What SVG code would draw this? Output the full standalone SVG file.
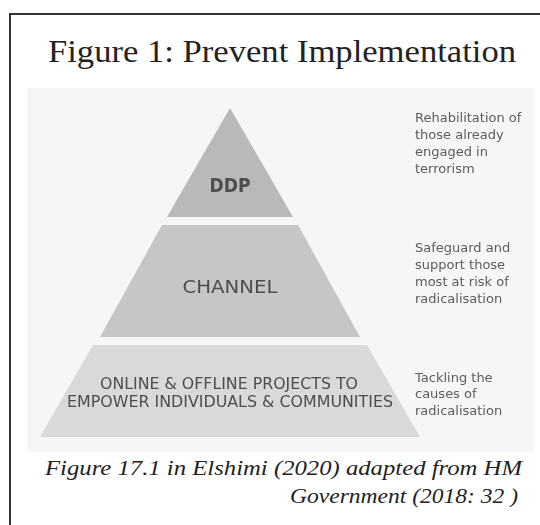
<svg xmlns="http://www.w3.org/2000/svg" width="540" height="525" viewBox="0 0 540 525">
  <defs>
    <style>
      .title { font-family: "Liberation Serif", "DejaVu Serif", serif; font-size: 31px; fill: #222; }
      .caption { font-family: "Liberation Serif", "DejaVu Serif", serif; font-style: italic; font-size: 21px; fill: #222; }
      .tier-label { font-family: "DejaVu Sans", "Liberation Sans", sans-serif; fill: #4d4d4d; text-anchor: middle; }
      .note { font-family: "DejaVu Sans", "Liberation Sans", sans-serif; font-size: 13px; fill: #5c5c5c; }
    </style>
    <filter id="soft" x="-5%" y="-5%" width="110%" height="110%">
      <feGaussianBlur stdDeviation="0.6"/>
    </filter>
  </defs>

  <rect width="540" height="525" fill="#ffffff"/>

  <!-- frame: top and left rules -->
  <path d="M10,525 V14 H540" fill="none" stroke="#333" stroke-width="2"/>

  <text class="title" x="48" y="62" textLength="468" lengthAdjust="spacingAndGlyphs">Figure 1: Prevent Implementation</text>

  <!-- figure panel -->
  <rect x="27" y="88" width="507" height="364" fill="#f6f6f6"/>

  <g filter="url(#soft)">
    <g id="tier-ddp">
      <polygon points="230,108 293,217 167,217" fill="#b9b9b9"/>
      <text class="tier-label" x="230" y="192" font-size="19" font-weight="bold" textLength="41" lengthAdjust="spacingAndGlyphs">DDP</text>
    </g>
    <g id="tier-channel">
      <polygon points="162,225 298,225 360,337 100,337" fill="#c6c6c6"/>
      <text class="tier-label" x="230" y="293" font-size="18" textLength="95" lengthAdjust="spacingAndGlyphs">CHANNEL</text>
    </g>
    <g id="tier-projects">
      <polygon points="93,345 367,345 420,437 40,437" fill="#d9d9d9"/>
      <text class="tier-label" x="229" y="389" font-size="15.5" textLength="258" lengthAdjust="spacingAndGlyphs">ONLINE &amp; OFFLINE PROJECTS TO</text>
      <text class="tier-label" x="230" y="407" font-size="15.5" textLength="326" lengthAdjust="spacingAndGlyphs">EMPOWER INDIVIDUALS &amp; COMMUNITIES</text>
    </g>

    <g id="note-ddp">
      <text class="note" x="415" y="122">Rehabilitation of</text>
      <text class="note" x="415" y="139">those already</text>
      <text class="note" x="415" y="156">engaged in</text>
      <text class="note" x="415" y="173">terrorism</text>
    </g>
    <g id="note-channel">
      <text class="note" x="415" y="252">Safeguard and</text>
      <text class="note" x="415" y="269">support those</text>
      <text class="note" x="415" y="286">most at risk of</text>
      <text class="note" x="415" y="303">radicalisation</text>
    </g>
    <g id="note-projects">
      <text class="note" x="415" y="382">Tackling the</text>
      <text class="note" x="415" y="398">causes of</text>
      <text class="note" x="415" y="415">radicalisation</text>
    </g>
  </g>

  <g id="connectors"/>

  <text class="caption" x="45" y="475" textLength="477" lengthAdjust="spacingAndGlyphs">Figure 17.1 in Elshimi (2020) adapted from HM</text>
  <text class="caption" x="290" y="503" textLength="228" lengthAdjust="spacingAndGlyphs">Government (2018: 32 )</text>
</svg>
